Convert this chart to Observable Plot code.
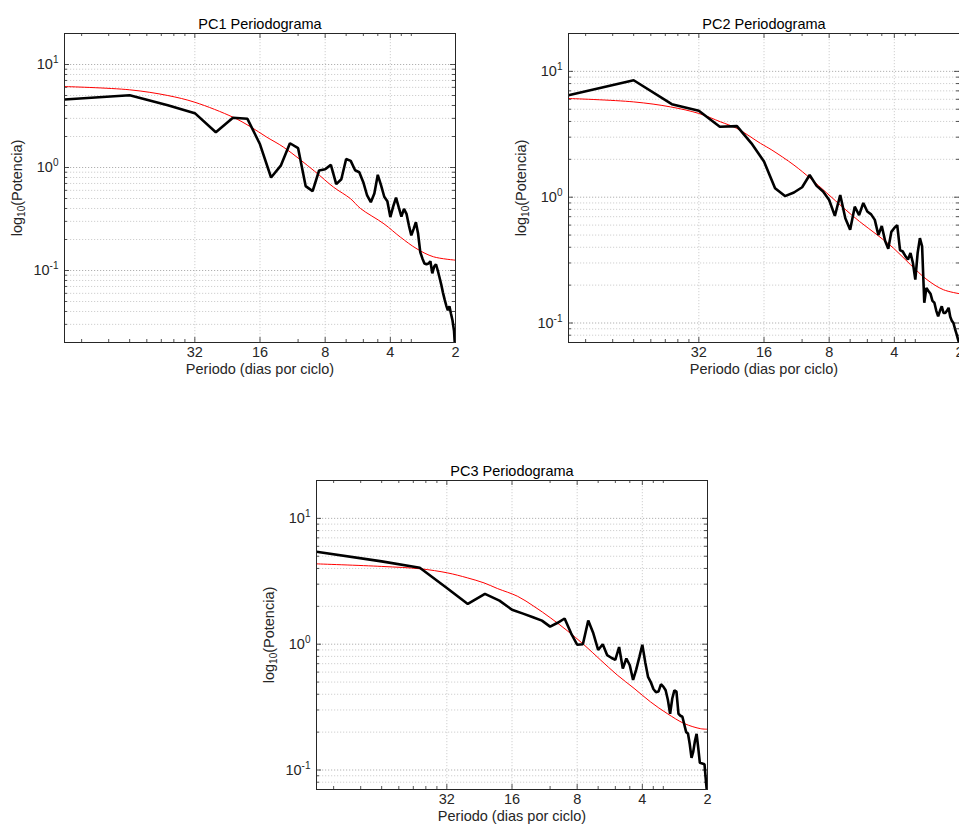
<!DOCTYPE html>
<html>
<head>
<meta charset="utf-8">
<script src="https://cdn.jsdelivr.net/npm/d3@7"></script>
<script src="https://cdn.jsdelivr.net/npm/@observablehq/plot@0.6"></script>
<style>
  html, body { margin: 0; padding: 0; background: white; overflow: hidden; }
  #root { position: relative; width: 959px; height: 826px; overflow: hidden; }
  .panel { position: absolute; width: 480px; height: 390px; }
</style>
</head>
<body>
<div id="root"></div>
<script>
// ---------- data ----------
// frequency index k (cycles per 128 days); period = 128 / k
const freqIndex = d3.range(1, 65);
const periods = freqIndex.map(k => 128 / k);

const xTickPeriods = [32, 16, 8, 4, 2];
const xTickLabels = ["32", "16", "8", "4", "2"];
const xMinorPeriods = [106.67, 80, 64, 53.33, 45.71, 40, 35.56, 10.67, 6.4, 5.33, 4.57, 3.56, 3.2];

const pc1Power = [4.57, 5.03, 4.03, 3.37, 2.20, 3.04, 2.97, 1.68, 0.80, 1.05,
  1.72, 1.54, 0.66, 0.59, 0.935, 0.96, 1.06, 0.69, 0.77, 1.21,
  1.16, 0.94, 0.90, 0.72, 0.535, 0.46, 0.56, 0.85, 0.67, 0.52,
  0.47, 0.33, 0.42, 0.51, 0.41, 0.334, 0.397, 0.355, 0.273, 0.219,
  0.254, 0.294, 0.227, 0.151, 0.131, 0.117, 0.115, 0.117, 0.123, 0.094,
  0.109, 0.115, 0.10, 0.0855, 0.073, 0.061, 0.0524, 0.0457, 0.041, 0.045,
  0.038, 0.0327, 0.026, 0.015];
const pc1RedK = [1, 2, 3, 4, 6, 7.2, 8.6, 10.3, 14.3, 17.5, 20.9, 23.3, 29.9, 35.6, 42.5, 50.6, 64];
const pc1RedV = [6.11, 5.68, 5.0, 4.3, 3.08, 2.5, 1.97, 1.57, 0.92, 0.644, 0.50, 0.40, 0.284, 0.211, 0.162, 0.136, 0.126];

const pc2Power = [6.47, 8.5, 5.49, 4.86, 3.63, 3.67, 2.68, 1.92, 1.18, 1.02,
  1.09, 1.20, 1.50, 1.23, 1.11, 0.95, 0.71, 1.04, 0.68, 0.55,
  0.84, 0.72, 0.90, 0.77, 0.73, 0.66, 0.50, 0.59, 0.45, 0.39,
  0.53, 0.57, 0.60, 0.38, 0.37, 0.34, 0.32, 0.36, 0.30, 0.221,
  0.36, 0.473, 0.406, 0.145, 0.19, 0.18, 0.171, 0.15, 0.145, 0.125,
  0.113, 0.125, 0.136, 0.12, 0.12, 0.125, 0.132, 0.112, 0.104, 0.10,
  0.09, 0.082, 0.074, 0.068];
const pc2RedK = [1, 2, 2.96, 4, 5.04, 6, 7.7, 8.7, 11, 13.1, 15.6, 18.7, 22.1, 26.6, 31.7, 38, 45.3, 53.9, 64];
const pc2RedV = [6.09, 5.72, 5.22, 4.63, 3.97, 3.52, 2.68, 2.37, 1.80, 1.41, 1.08, 0.818, 0.641, 0.503, 0.394, 0.291, 0.221, 0.184, 0.171];

const pc3Power = [5.43, 4.55, 4.05, 2.8, 2.09, 2.51, 2.22, 1.88, 1.75, 1.64,
  1.54, 1.38, 1.48, 1.60, 1.22, 0.99, 1.0, 1.54, 1.22, 0.90,
  1.0, 0.82, 0.78, 0.75, 0.95, 0.64, 0.77, 0.68, 0.52, 0.63,
  0.79, 0.99, 0.72, 0.55, 0.50, 0.44, 0.415, 0.42, 0.48, 0.46,
  0.43, 0.36, 0.28, 0.37, 0.43, 0.42, 0.28, 0.27, 0.265, 0.23,
  0.20, 0.195, 0.16, 0.125, 0.14, 0.17, 0.194, 0.15, 0.114, 0.113,
  0.112, 0.111, 0.08, 0.06];
const pc3RedK = [1, 2, 3.03, 4.02, 4.97, 5.94, 6.85, 8.5, 10.1, 12.1, 14.4, 17.2, 20.5, 24.5, 29.3, 34.9, 41.7, 50, 59.5, 64];
const pc3RedV = [4.35, 4.15, 3.97, 3.69, 3.37, 3.07, 2.77, 2.40, 2.0, 1.61, 1.28, 0.99, 0.75, 0.569, 0.446, 0.348, 0.281, 0.234, 0.213, 0.211];

const xLabel = "Periodo (dias por ciclo)";
const panels = [
  {title: "PC1 Periodograma", power: pc1Power, redK: pc1RedK, redV: pc1RedV, yDomain: [0.02, 20], left: 0, top: 0},
  {title: "PC2 Periodograma", power: pc2Power, redK: pc2RedK, redV: pc2RedV, yDomain: [0.07, 20], left: 504, top: 0},
  {title: "PC3 Periodograma", power: pc3Power, redK: pc3RedK, redV: pc3RedV, yDomain: [0.07, 20], left: 252, top: 447}
];

// ---------- drawing ----------
const FONT = "'Liberation Sans', Arial, Helvetica, sans-serif";
const INK = "#262626";
const FS = 14.5;

function makePanel(cfg) {
  const W = 480, H = 390, mL = 64, mR = 25, mT = 33, mB = 48;
  const fw = W - mL - mR, fh = H - mT - mB;
  const rows = periods.map((p, i) => ({period: p, power: cfg.power[i]}));
  const red = cfg.redK.map((k, i) => ({period: 128 / k, power: cfg.redV[i]}));
  const allY = d3.scaleLog().domain(cfg.yDomain).ticks();
  const yMajor = allY.filter(v => Math.abs(Math.log10(v) - Math.round(Math.log10(v))) < 1e-9);
  const yMinor = allY.filter(v => !yMajor.includes(v));
  const xGrid = xTickPeriods.slice(0, -1);

  const svg = Plot.plot({
    width: W, height: H,
    marginLeft: mL, marginRight: mR, marginTop: mT, marginBottom: mB,
    style: {fontFamily: FONT, fontSize: FS + "px", color: INK, background: "white", maxWidth: "none", overflow: "visible"},
    x: {type: "log", domain: [128, 2], axis: null},
    y: {type: "log", domain: cfg.yDomain},
    marks: [
      Plot.ruleY(yMinor, {y: d => d, stroke: "#c4c4c4", strokeWidth: 0.8, strokeDasharray: "1.2,1.8"}),
      Plot.ruleY(yMajor, {y: d => d, stroke: "#a8a8a8", strokeWidth: 0.9, strokeDasharray: "1.2,1.8"}),
      Plot.ruleX(xGrid, {x: d => d, stroke: "#c4c4c4", strokeWidth: 0.8, strokeDasharray: "1.2,1.8"}),
      // inward ticks (left / right)
      Plot.tickY(yMinor, {y: d => d, insetRight: fw - 3, stroke: INK, strokeWidth: 0.8}),
      Plot.tickY(yMinor, {y: d => d, insetLeft: fw - 3, stroke: INK, strokeWidth: 0.8}),
      Plot.tickY(yMajor, {y: d => d, insetRight: fw - 5, stroke: INK, strokeWidth: 0.8}),
      Plot.tickY(yMajor, {y: d => d, insetLeft: fw - 5, stroke: INK, strokeWidth: 0.8}),
      // inward ticks (bottom / top)
      Plot.tickX(xMinorPeriods, {x: d => d, insetTop: fh - 3, stroke: INK, strokeWidth: 0.8}),
      Plot.tickX(xMinorPeriods, {x: d => d, insetBottom: fh - 3, stroke: INK, strokeWidth: 0.8}),
      Plot.tickX(xGrid, {x: d => d, insetTop: fh - 5, stroke: INK, strokeWidth: 0.8}),
      Plot.tickX(xGrid, {x: d => d, insetBottom: fh - 5, stroke: INK, strokeWidth: 0.8}),
      Plot.line(red, {x: "period", y: "power", stroke: "#ff0000", strokeWidth: 1, curve: "catmull-rom", clip: true}),
      Plot.line(rows, {x: "period", y: "power", stroke: "black", strokeWidth: 2.6, strokeLinejoin: "miter", clip: true}),
      Plot.frame({stroke: INK, strokeWidth: 1}),
      // x tick labels and x label (text marks positioned by the x scale)
      Plot.text(xTickPeriods, {x: d => d, text: (d, i) => xTickLabels[i], frameAnchor: "bottom",
        lineAnchor: "top", dy: 4, fontSize: FS, fill: INK}),
      Plot.text([xLabel], {frameAnchor: "bottom", lineAnchor: "bottom", dy: 31, fontSize: FS, fill: INK}),
      Plot.axisY(yMajor, {
        tickSize: 0, tickPadding: 6,
        tickFormat: d => "10^" + Math.round(Math.log10(d)),
        label: "log10(Potencia)", labelAnchor: "center", labelArrow: "none", labelOffset: 53
      }),
      Plot.text([cfg.title], {frameAnchor: "top", dy: -15, fontSize: FS, fill: "black"})
    ]
  });

  // superscripts for y tick labels: 10^n
  svg.querySelectorAll('[aria-label="y-axis tick label"] text').forEach(t => {
    const s = t.textContent;
    const m = s.match(/^10\^(-?\d+)$/);
    if (!m) return;
    t.textContent = "";
    const base = document.createElementNS("http://www.w3.org/2000/svg", "tspan");
    base.textContent = "10";
    const sup = document.createElementNS("http://www.w3.org/2000/svg", "tspan");
    sup.textContent = m[1];
    sup.setAttribute("font-size", "10px");
    sup.setAttribute("dy", "-0.6em");
    t.appendChild(base); t.appendChild(sup);
  });
  // subscript in y label: log10(Potencia)
  svg.querySelectorAll('[aria-label="y-axis label"] text').forEach(t => {
    t.textContent = "";
    const a = document.createElementNS("http://www.w3.org/2000/svg", "tspan");
    a.textContent = "log";
    const b = document.createElementNS("http://www.w3.org/2000/svg", "tspan");
    b.textContent = "10"; b.setAttribute("font-size", "10px"); b.setAttribute("dy", "0.35em");
    const c = document.createElementNS("http://www.w3.org/2000/svg", "tspan");
    c.textContent = "(Potencia)"; c.setAttribute("dy", "-0.25em");
    t.appendChild(a); t.appendChild(b); t.appendChild(c);
  });

  const div = document.createElement("div");
  div.className = "panel";
  div.style.left = cfg.left + "px";
  div.style.top = cfg.top + "px";
  div.appendChild(svg);
  return div;
}

const root = document.getElementById("root");
panels.forEach(p => root.appendChild(makePanel(p)));
</script>
</body>
</html>
